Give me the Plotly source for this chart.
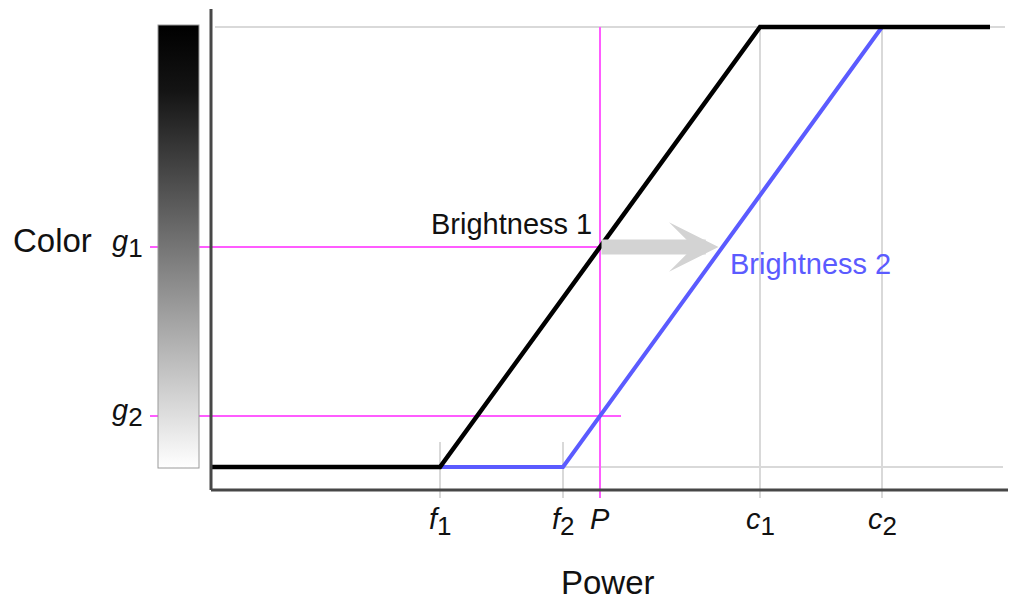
import plotly.graph_objects as go

# ---- data (Power / Color units) ----
f_vals = [2.29, 3.52]          # f1, f2
c_vals = [5.49, 6.71]          # c1, c2
P_val = 3.89
g_vals = [0.50, 0.116]         # g1, g2
power_end = 7.79

b1_x = [0.0, f_vals[0], c_vals[0], power_end]
b1_y = [0.0, 0.0, 1.0, 1.0]
b2_x = [f_vals[0], f_vals[1], c_vals[1]]
b2_y = [0.0, 0.0, 1.0]

SUB = '<sub><span style="font-size:26px">{}</span></sub>'
x_tick_vals = [f_vals[0], f_vals[1], P_val, c_vals[0], c_vals[1]]
x_tick_text = ['<i>f</i>' + SUB.format('1'), '<i>f</i>' + SUB.format('2'), '<i>P</i>',
               '<i>c</i>' + SUB.format('1'), '<i>c</i>' + SUB.format('2')]
g_tick_text = ['<i>g</i>' + SUB.format('1'), '<i>g</i>' + SUB.format('2')]

FONT = 'Liberation Sans, Arial, sans-serif'
BLUE = '#5b5bff'
MAGENTA = '#ff5cff'
GRID = '#d9d9d9'
AXIS = '#474747'

# page body has an 8px margin, so the figure is 8px smaller than the window
W, H = 1008, 594
OFF = 8
X0, X1 = -2.03, 8.05
Y0, Y1 = -0.3068, 1.0432
AX_Y = -0.0523   # bottom axis line level
AX_TOP = 1.041
TICK_LOW = -0.0705


def px(xpix):
    return (xpix - OFF) / W


def py(ypix):
    return (602 - ypix) / H


fig = go.Figure()

fig.add_trace(go.Scatter(x=b2_x, y=b2_y, mode='lines',
                         line=dict(color=BLUE, width=4), hoverinfo='skip'))
fig.add_trace(go.Scatter(x=b1_x, y=b1_y, mode='lines',
                         line=dict(color='black', width=4.5), hoverinfo='skip'))
# invisible markers carrying the colour scale (the grey bar on the left)
fig.add_trace(go.Scatter(
    x=[f_vals[0], c_vals[0]], y=[0.0, 1.0], mode='markers',
    marker=dict(size=1, opacity=0, color=[0.0, 1.0], cmin=0, cmax=1,
                colorscale=[[0, '#ffffff'], [0.85, '#141414'], [1, '#000000']],
                showscale=True,
                colorbar=dict(x=px(158), xanchor='left', xref='paper',
                              y=py(468), yanchor='bottom', yref='paper',
                              len=443, lenmode='pixels', thickness=41,
                              thicknessmode='pixels', outlinewidth=1,
                              outlinecolor='#9a9a9a', showticklabels=False,
                              ticks='', xpad=0, ypad=0)),
    hoverinfo='skip'))

shapes = []
# light grey guide lines
for yv, xe in [(1.0, 7.94), (0.0, 7.92)]:
    shapes.append(dict(type='line', xref='x', yref='y', x0=0.04, x1=xe, y0=yv, y1=yv,
                       line=dict(color=GRID, width=2), layer='below'))
for cv in c_vals:
    shapes.append(dict(type='line', xref='x', yref='y', x0=cv, x1=cv, y0=1.0, y1=TICK_LOW,
                       line=dict(color=GRID, width=2), layer='below'))
for fv in f_vals:
    shapes.append(dict(type='line', xref='x', yref='y', x0=fv, x1=fv, y0=0.057, y1=TICK_LOW,
                       line=dict(color=GRID, width=2), layer='below'))
# magenta guides
for gv in g_vals:
    shapes.append(dict(type='line', xref='x', yref='y', x0=-0.61, x1=4.10, y0=gv, y1=gv,
                       line=dict(color=MAGENTA, width=2), layer='below'))
shapes.append(dict(type='line', xref='x', yref='y', x0=P_val, x1=P_val, y0=1.0, y1=TICK_LOW,
                   line=dict(color=MAGENTA, width=2), layer='below'))
# axis lines
shapes.append(dict(type='line', xref='x', yref='y', x0=0, x1=0, y0=AX_Y, y1=AX_TOP,
                   line=dict(color=AXIS, width=3)))
shapes.append(dict(type='line', xref='x', yref='y', x0=0, x1=X1, y0=AX_Y, y1=AX_Y,
                   line=dict(color=AXIS, width=3)))

annotations = []
for xv, txt in zip(x_tick_vals, x_tick_text):
    annotations.append(dict(x=xv, y=AX_Y, xref='x', yref='y', text=txt, showarrow=False,
                            xanchor='center', yanchor='top', yshift=-11,
                            font=dict(family=FONT, size=29, color='#111')))
for gv, txt in zip(g_vals, g_tick_text):
    annotations.append(dict(x=-0.84, y=gv, xref='x', yref='y', text=txt, showarrow=False,
                            xanchor='center', yanchor='middle', yshift=3,
                            font=dict(family=FONT, size=29, color='#111')))
annotations.append(dict(x=px(52), y=py(240), xref='paper', yref='paper',
                        text='Color', showarrow=False, xanchor='center', yanchor='middle',
                        font=dict(family=FONT, size=33, color='#111')))
annotations.append(dict(x=px(608), y=py(582), xref='paper', yref='paper',
                        text='Power', showarrow=False, xanchor='center', yanchor='middle',
                        font=dict(family=FONT, size=33, color='#111')))
annotations.append(dict(x=3.0, y=0.552, xref='x', yref='y', text='Brightness 1',
                        showarrow=False, xanchor='center', yanchor='middle',
                        font=dict(family=FONT, size=29, color='#111')))
annotations.append(dict(x=5.99, y=0.461, xref='x', yref='y', text='Brightness 2',
                        showarrow=False, xanchor='center', yanchor='middle',
                        font=dict(family=FONT, size=29, color=BLUE)))
# grey shift arrow from Brightness 1 to Brightness 2 at g1
tip_x = f_vals[1] + (c_vals[1] - f_vals[1]) * g_vals[0]
annotations.append(dict(x=tip_x - 0.04, y=g_vals[0], ax=P_val, ay=g_vals[0], xref='x', yref='y',
                        axref='x', ayref='y', text='', showarrow=True, arrowhead=3,
                        arrowsize=0.55, arrowwidth=15, arrowcolor='#d3d3d3', standoff=0))

fig.update_layout(
    width=W, height=H,
    margin=dict(l=0, r=0, t=0, b=0),
    paper_bgcolor='white', plot_bgcolor='white',
    showlegend=False, hovermode=False,
    xaxis=dict(range=[X0, X1], visible=False, domain=[0, 1]),
    yaxis=dict(range=[Y0, Y1], visible=False, domain=[0, 1]),
    shapes=shapes, annotations=annotations,
)

fig.write_html('out.html')
